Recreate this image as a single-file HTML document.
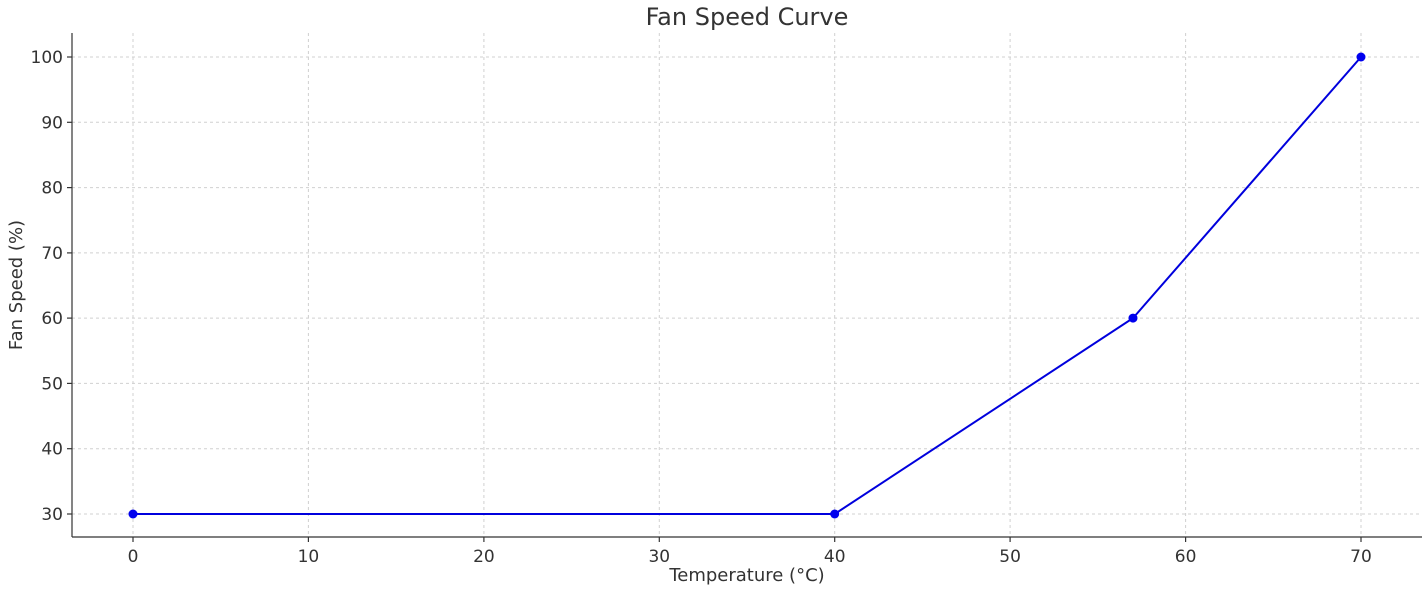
<!DOCTYPE html>
<html><head><meta charset="utf-8"><style>
html,body{margin:0;padding:0;background:#fff;}
svg{display:block;font-family:"DejaVu Sans","Liberation Sans",sans-serif;}
</style></head><body>
<svg width="1428" height="594" viewBox="0 0 1428 594" xmlns="http://www.w3.org/2000/svg">
<rect width="1428" height="594" fill="#fff"/>
<g stroke="#d0d0d0" stroke-width="1" stroke-dasharray="3,3">
<line x1="133" y1="33" x2="133" y2="537"/>
<line x1="308.4" y1="33" x2="308.4" y2="537"/>
<line x1="483.9" y1="33" x2="483.9" y2="537"/>
<line x1="659.3" y1="33" x2="659.3" y2="537"/>
<line x1="834.7" y1="33" x2="834.7" y2="537"/>
<line x1="1010.1" y1="33" x2="1010.1" y2="537"/>
<line x1="1185.6" y1="33" x2="1185.6" y2="537"/>
<line x1="1361" y1="33" x2="1361" y2="537"/>
<line x1="72" y1="514" x2="1422" y2="514"/>
<line x1="72" y1="448.7" x2="1422" y2="448.7"/>
<line x1="72" y1="383.4" x2="1422" y2="383.4"/>
<line x1="72" y1="318.1" x2="1422" y2="318.1"/>
<line x1="72" y1="252.9" x2="1422" y2="252.9"/>
<line x1="72" y1="187.6" x2="1422" y2="187.6"/>
<line x1="72" y1="122.3" x2="1422" y2="122.3"/>
<line x1="72" y1="57" x2="1422" y2="57"/>
</g>
<g stroke="#333" stroke-width="1.2">
<line x1="72" y1="33" x2="72" y2="537"/>
<line x1="72" y1="537" x2="1422" y2="537"/>
<line x1="133" y1="537" x2="133" y2="542"/><line x1="308.4" y1="537" x2="308.4" y2="542"/>
<line x1="483.9" y1="537" x2="483.9" y2="542"/><line x1="659.3" y1="537" x2="659.3" y2="542"/>
<line x1="834.7" y1="537" x2="834.7" y2="542"/><line x1="1010.1" y1="537" x2="1010.1" y2="542"/>
<line x1="1185.6" y1="537" x2="1185.6" y2="542"/><line x1="1361" y1="537" x2="1361" y2="542"/>
<line x1="67" y1="514" x2="72" y2="514"/><line x1="67" y1="448.7" x2="72" y2="448.7"/>
<line x1="67" y1="383.4" x2="72" y2="383.4"/><line x1="67" y1="318.1" x2="72" y2="318.1"/>
<line x1="67" y1="252.9" x2="72" y2="252.9"/><line x1="67" y1="187.6" x2="72" y2="187.6"/>
<line x1="67" y1="122.3" x2="72" y2="122.3"/><line x1="67" y1="57" x2="72" y2="57"/>
</g>
<g fill="#333" font-size="17" text-anchor="middle">
<text x="133" y="562">0</text><text x="308.4" y="562">10</text><text x="483.9" y="562">20</text>
<text x="659.3" y="562">30</text><text x="834.7" y="562">40</text><text x="1010.1" y="562">50</text>
<text x="1185.6" y="562">60</text><text x="1361" y="562">70</text>
</g>
<g fill="#333" font-size="17" text-anchor="end">
<text x="63" y="520">30</text><text x="63" y="454.7">40</text><text x="63" y="389.4">50</text>
<text x="63" y="324.1">60</text><text x="63" y="258.9">70</text><text x="63" y="193.6">80</text>
<text x="63" y="128.3">90</text><text x="63" y="63">100</text>
</g>
<text x="747" y="581" fill="#333" font-size="18" text-anchor="middle">Temperature (°C)</text>
<text transform="translate(22,285) rotate(-90)" fill="#333" font-size="18" text-anchor="middle">Fan Speed (%)</text>
<text x="747" y="25" fill="#333" font-size="24" text-anchor="middle">Fan Speed Curve</text>
<polyline points="133,514 834.7,514 1133,318.1 1361,57" fill="none" stroke="#0000dd" stroke-width="2"/>
<g fill="#0000ee">
<circle cx="133" cy="514" r="4.5"/><circle cx="834.7" cy="514" r="4.5"/>
<circle cx="1133" cy="318.1" r="4.5"/><circle cx="1361" cy="57" r="4.5"/>
</g>
</svg>
</body></html>
